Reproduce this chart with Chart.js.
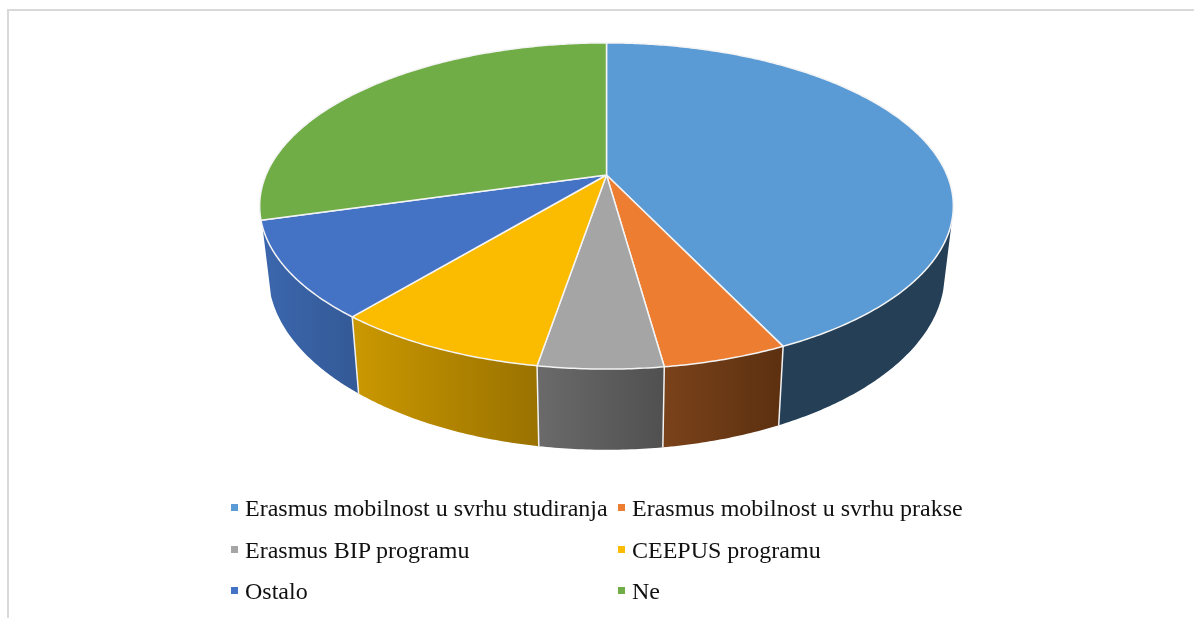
<!DOCTYPE html>
<html>
<head>
<meta charset="utf-8">
<style>
    html, body { margin: 0; padding: 0; background: #fff; overflow: hidden; }
    #okvir { position: absolute; left: 7px; top: 9px; width: 1187px; height: 609px; border-top: 2px solid #d9d9d9; border-left: 2px solid #d9d9d9; box-sizing: border-box; }
    canvas { position: absolute; left: 0; top: 0; }
    .stavka { position: absolute; font: 24px "Liberation Serif", serif; color: #111; white-space: nowrap; line-height: 24px; }
    .oznaka { position: absolute; width: 7px; height: 7px; }
</style>
</head>
<body>
<div id="okvir"></div>
<canvas id="grafikon" width="1194" height="618"></canvas>
<div id="legenda"></div>
<script src="https://cdn.jsdelivr.net/npm/chart.js@4"></script>
<script>
const categories = [
    "Erasmus mobilnost u svrhu studiranja",
    "Erasmus mobilnost u svrhu prakse",
    "Erasmus BIP programu",
    "CEEPUS programu",
    "Ostalo",
    "Ne"
];
const values = [42.93, 4.87, 4.85, 8.35, 9.6, 29.4];
const sliceColors = ["#5b9bd5", "#ed7d31", "#a5a5a5", "#fbbc00", "#4472c4", "#70ad47"];
const wallLeft = ["#243f56", "#7a421a", "#6a6a6a", "#c99700", "#3b66ac", "#3f6228"];
const wallRight = ["#243f56", "#5c3010", "#505050", "#9a7200", "#345a97", "#3f6228"];

// legenda: dva stupca, tri reda
const legendaX = [231, 618];
const legendaY = [508, 550, 591];

// perspektiva: kruzic (u, v) se preslikava na plohu
const CX = 606.5;
const GORE = { r: 340.5, y: 175, a: 157.2 };
const DOLJE = { r: 332, y: 240.5, a: 169.5 };
const K = 0.19;
const ZID_OD = 16 * Math.PI / 180;   // vidljivi dio zida, kut od 3 sata
const ZID_DO = 162 * Math.PI / 180;

function tocka(p, kut) {
    const u = Math.cos(kut), v = Math.sin(kut);
    const w = 1 - K * v;
    return [CX + p.r * u / w, p.y + p.a * v / w];
}

function luk(ctx, p, od, doKuta) {
    const koraci = Math.max(2, Math.ceil(Math.abs(doKuta - od) / 0.01));
    for (let i = 0; i <= koraci; i++) {
        const t = tocka(p, od + (doKuta - od) * i / koraci);
        ctx.lineTo(t[0], t[1]);
    }
}

const pie3d = {
    id: "pie3d",
    beforeDatasetDraw(chart) {
        const ctx = chart.ctx;
        const arcs = chart.getDatasetMeta(0).data;
        ctx.save();
        ctx.lineJoin = "round";

        // zidovi
        arcs.forEach((arc, i) => {
            const od = Math.max(arc.startAngle, ZID_OD);
            const doKuta = Math.min(arc.endAngle, ZID_DO);
            if (doKuta <= od) return;
            const a = tocka(DOLJE, doKuta), b = tocka(GORE, od);
            const grad = ctx.createLinearGradient(Math.min(a[0], b[0]), 0, Math.max(a[0], b[0]), 0);
            grad.addColorStop(0, wallLeft[i]);
            grad.addColorStop(1, wallRight[i]);
            ctx.beginPath();
            luk(ctx, GORE, od, doKuta);
            luk(ctx, DOLJE, doKuta, od);
            ctx.closePath();
            ctx.fillStyle = grad;
            ctx.fill();
        });

        // bijele okomite linije izmedu zidova
        ctx.strokeStyle = "#f2f2f2";
        ctx.lineWidth = 1.5;
        arcs.forEach(arc => {
            if (arc.endAngle <= ZID_OD || arc.endAngle >= ZID_DO) return;
            const a = tocka(GORE, arc.endAngle), b = tocka(DOLJE, arc.endAngle);
            ctx.beginPath();
            ctx.moveTo(a[0], a[1]);
            ctx.lineTo(b[0], b[1]);
            ctx.stroke();
        });

        // gornja ploha
        arcs.forEach((arc, i) => {
            ctx.beginPath();
            ctx.moveTo(CX, GORE.y);
            luk(ctx, GORE, arc.startAngle, arc.endAngle);
            ctx.closePath();
            ctx.fillStyle = sliceColors[i];
            ctx.fill();
            ctx.strokeStyle = "#f4f4f4";
            ctx.lineWidth = 1.5;
            ctx.stroke();
        });
        ctx.restore();
        return false;
    }
};

new Chart(document.getElementById("grafikon").getContext("2d"), {
    type: "pie",
    data: {
        labels: categories,
        datasets: [{ data: values, backgroundColor: sliceColors }]
    },
    options: {
        responsive: false,
        animation: false,
        plugins: { legend: { display: false }, tooltip: { enabled: false } }
    },
    plugins: [pie3d]
});

const legenda = document.getElementById("legenda");
categories.forEach((naziv, i) => {
    const x = legendaX[i % 2], y = legendaY[Math.floor(i / 2)];
    const oznaka = document.createElement("div");
    oznaka.className = "oznaka";
    oznaka.style.left = x + "px";
    oznaka.style.top = (y - 4) + "px";
    oznaka.style.background = sliceColors[i];
    legenda.appendChild(oznaka);
    const tekst = document.createElement("div");
    tekst.className = "stavka";
    tekst.style.left = (x + 14) + "px";
    tekst.style.top = (y - 12) + "px";
    tekst.textContent = naziv;
    legenda.appendChild(tekst);
});
</script>
</body>
</html>
